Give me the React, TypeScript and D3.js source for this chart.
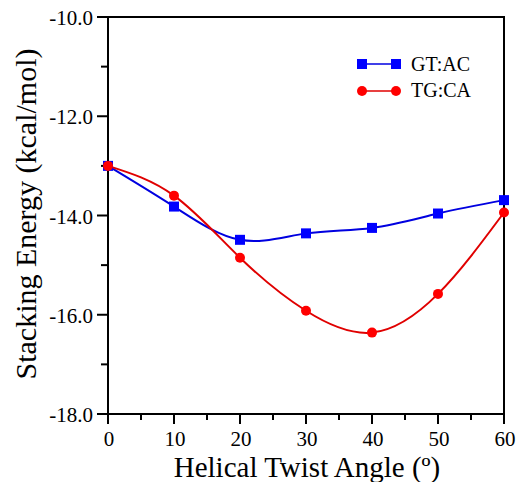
import React from "react";
import * as d3 from "d3";

const angles = [0, 10, 20, 30, 40, 50, 60];
const gtac = [-13.0, -13.82, -14.49, -14.36, -14.25, -13.96, -13.69];
const tgca = [-13.0, -13.6, -14.85, -15.92, -16.36, -15.58, -13.94];
const xTicks = [0, 10, 20, 30, 40, 50, 60];
const xMinor = [5, 15, 25, 35, 45, 55];
const yTicks = [-10, -12, -14, -16, -18];
const yMinor = [-11, -13, -15, -17];

const W = 519, H = 482;
const L = 108, R = 504, T = 17, B = 414;

export default function App() {
  const x = d3.scaleLinear().domain([0, 60]).range([L, R]);
  const y = d3.scaleLinear().domain([-18, -10]).range([B, T]);
  const line = d3.line<[number, number]>().x(d => x(d[0])).y(d => y(d[1])).curve(d3.curveNatural);
  const blue = angles.map((a, i) => [a, gtac[i]] as [number, number]);
  const red = angles.map((a, i) => [a, tgca[i]] as [number, number]);
  const font = "Liberation Serif, Times New Roman, serif";
  return (
    <svg width={W} height={H} style={{ position: "absolute", left: 0, top: 0, background: "#fff", fontFamily: font }}>
      <rect x={0} y={0} width={W} height={H} fill="#fff" />
      <rect x={L} y={T} width={R - L} height={B - T} fill="none" stroke="#000" strokeWidth={2} />
      {yTicks.map(t => (
        <g key={"y" + t}>
          <line x1={L - 11} x2={L} y1={y(t)} y2={y(t)} stroke="#000" strokeWidth={2} />
          <text x={L - 15} y={y(t) + 8} textAnchor="end" fontSize={21} style={{ fontFamily: font }}>{t.toFixed(1)}</text>
        </g>
      ))}
      {yMinor.map(t => (
        <line key={"ym" + t} x1={L - 7} x2={L} y1={y(t)} y2={y(t)} stroke="#000" strokeWidth={2} />
      ))}
      {xTicks.map(t => (
        <g key={"x" + t}>
          <line x1={x(t)} x2={x(t)} y1={B} y2={B + 10} stroke="#000" strokeWidth={2} />
          <text x={x(t) + 1} y={B + 32} textAnchor="middle" fontSize={21} style={{ fontFamily: font }}>{t}</text>
        </g>
      ))}
      {xMinor.map(t => (
        <line key={"xm" + t} x1={x(t)} x2={x(t)} y1={B} y2={B + 6} stroke="#000" strokeWidth={2} />
      ))}
      <path d={line(blue) || ""} fill="none" stroke="#0000e0" strokeWidth={2} />
      <path d={line(red) || ""} fill="none" stroke="#e00000" strokeWidth={2} />
      {blue.map((d, i) => (
        <rect key={"b" + i} x={x(d[0]) - 5} y={y(d[1]) - 5} width={10} height={10} fill="#0000ff" />
      ))}
      {red.map((d, i) => (
        <circle key={"r" + i} cx={x(d[0])} cy={y(d[1])} r={5} fill="#ff0000" />
      ))}
      <line x1={362} x2={396} y1={64} y2={64} stroke="#0000e0" strokeWidth={1.5} />
      <rect x={357} y={59} width={10} height={10} fill="#0000ff" />
      <rect x={391} y={59} width={10} height={10} fill="#0000ff" />
      <text x={411} y={71} fontSize={20} style={{ fontFamily: font }}>GT:AC</text>
      <line x1={362} x2={396} y1={91} y2={91} stroke="#e00000" strokeWidth={1.5} />
      <circle cx={362} cy={91} r={5} fill="#ff0000" />
      <circle cx={396} cy={91} r={5} fill="#ff0000" />
      <text x={411} y={97} fontSize={20} style={{ fontFamily: font }}>TG:CA</text>
      <text x={307} y={477} textAnchor="middle" fontSize={29} style={{ fontFamily: font }}>Helical Twist Angle (º)</text>
      <text transform={`translate(36, 214) rotate(-90)`} textAnchor="middle" fontSize={30} style={{ fontFamily: font }}>Stacking Energy (kcal/mol)</text>
    </svg>
  );
}
